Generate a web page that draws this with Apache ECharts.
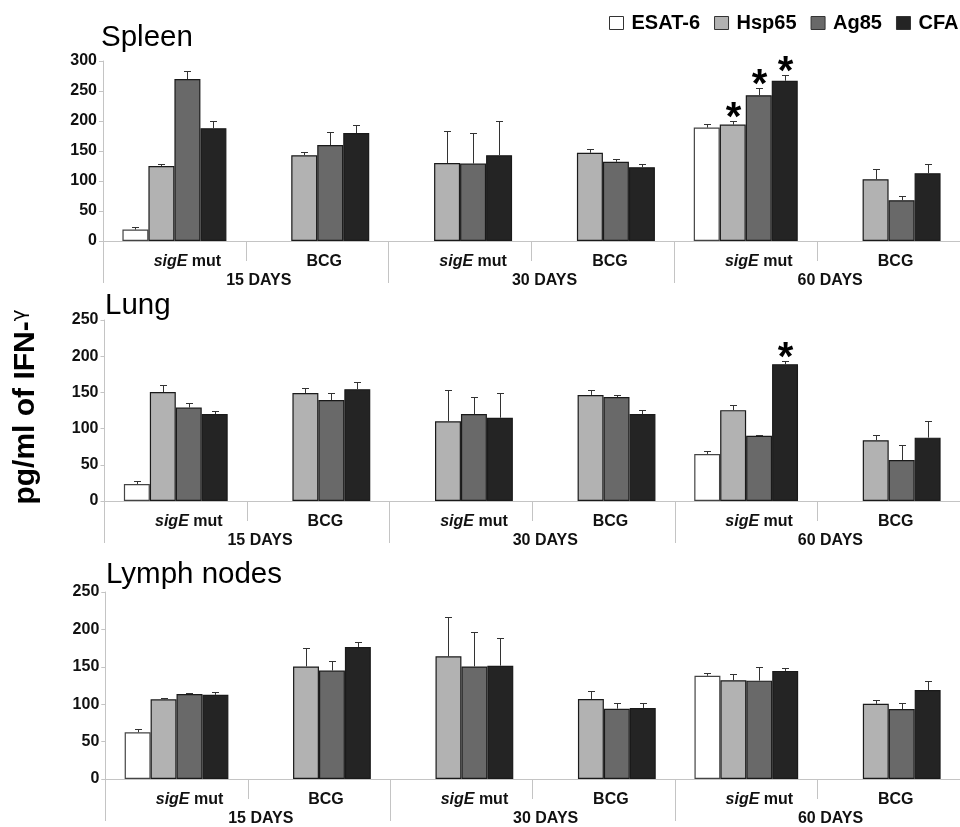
<!DOCTYPE html>
<html>
<head>
<meta charset="utf-8">
<title>IFN-gamma</title>
<script src="https://cdn.jsdelivr.net/npm/echarts@6/dist/echarts.min.js"></script>
<style>
  html, body { margin: 0; padding: 0; background: #fff; }
  #chart { width: 960px; height: 827px; }
</style>
</head>
<body>
<div id="chart"></div>
<script>
// categories
const groups = ['sigE mut', 'BCG', 'sigE mut', 'BCG', 'sigE mut', 'BCG'];
const days = ['15 DAYS', '30 DAYS', '60 DAYS'];
const antigens = ['ESAT-6', 'Hsp65', 'Ag85', 'CFA'];

// Spleen: means and SD (upper error)
const spleenESAT = [19, null, null, null, 189, null];
const spleenHsp65 = [125, 143, 130, 147, 194, 103];
const spleenAg85 = [270, 160, 129, 132, 243, 68];
const spleenCFA = [188, 180, 143, 123, 267, 113];
const spleenESATsd = [5, null, null, null, 6, null];
const spleenHsp65sd = [3, 5, 54, 7, 6.5, 17.5];
const spleenAg85sd = [13, 21.5, 51, 5, 12.5, 7.5];
const spleenCFAsd = [12, 13.5, 57, 6, 10, 16];
const spleenStars = [[1, 4], [2, 4], [3, 4]]; // [antigen, group]

// Lung
const lungESAT = [23.5, null, null, null, 65, null];
const lungHsp65 = [150.5, 149, 110, 146.5, 125.5, 84];
const lungAg85 = [129, 139.5, 120, 143.5, 90, 56.5];
const lungCFA = [120, 154.5, 115, 120, 189, 87.5];
const lungESATsd = [3.5, null, null, null, 3.6, null];
const lungHsp65sd = [9.5, 7.5, 43, 6.5, 6.5, 7];
const lungAg85sd = [6, 9.5, 23.5, 2.5, 1, 20.5];
const lungCFAsd = [5, 9.5, 34, 6, 4, 22.5];
const lungStars = [[3, 4]];

// Lymph nodes
const lymphESAT = [62.5, null, null, null, 138, null];
const lymphHsp65 = [106.5, 150.5, 164, 107, 132, 100.5];
const lymphAg85 = [113.5, 145, 150.5, 94, 131.5, 93.5];
const lymphCFA = [112.5, 176.5, 151.5, 95, 144.5, 119];
const lymphESATsd = [4, null, null, null, 4, null];
const lymphHsp65sd = [1.5, 24, 52.5, 10, 9, 4.5];
const lymphAg85sd = [2, 13, 46.5, 8, 18.5, 7.5];
const lymphCFAsd = [3.5, 6.5, 36.5, 7, 4, 12.5];
const lymphStars = [];

const colors = ['#ffffff', '#b2b2b2', '#696969', '#242424'];
const FONT = "'Liberation Sans', Arial, sans-serif";
const barFrac = 0.182;

const panels = [
    { title: 'Spleen', max: 300, left: 103, top: 61, height: 180, titleTop: 23, titleLeft: 101,
      vals: [spleenESAT, spleenHsp65, spleenAg85, spleenCFA],
      sds: [spleenESATsd, spleenHsp65sd, spleenAg85sd, spleenCFAsd], stars: spleenStars },
    { title: 'Lung', max: 250, left: 104.5, top: 320, height: 181, titleTop: 291, titleLeft: 105,
      vals: [lungESAT, lungHsp65, lungAg85, lungCFA],
      sds: [lungESATsd, lungHsp65sd, lungAg85sd, lungCFAsd], stars: lungStars },
    { title: 'Lymph nodes', max: 250, left: 105.3, top: 592, height: 189, titleTop: 560, titleLeft: 106,
      vals: [lymphESAT, lymphHsp65, lymphAg85, lymphCFA],
      sds: [lymphESATsd, lymphHsp65sd, lymphAg85sd, lymphCFAsd], stars: lymphStars }
];

// error bars + asterisks
function renderErr(params, api) {
    const g = api.value(0), s = api.value(1), v = api.value(2), sd = api.value(3), star = api.value(4);
    const p0 = api.coord([g, v]);
    const p1 = api.coord([g, v + sd]);
    const bw = api.size([1, 0])[0] * barFrac;
    const x = Math.round(p0[0] + (s - 1.5) * bw) + 0.5;
    const y1 = Math.round(p1[1]) + 0.5;
    const ls = { stroke: '#333', lineWidth: 1 };
    const children = [
        { type: 'line', shape: { x1: x, y1: p0[1], x2: x, y2: y1 }, style: ls },
        { type: 'line', shape: { x1: x - 3.5, y1: y1, x2: x + 3.5, y2: y1 }, style: ls }
    ];
    if (star) {
        children.push({
            type: 'text',
            style: { text: '*', x: x, y: y1 - 3, align: 'center', verticalAlign: 'middle',
                     font: 'bold 40px ' + FONT, fill: '#000' }
        });
    }
    return { type: 'group', children: children };
}

const grid = [], xAxis = [], yAxis = [], series = [], title = [];
panels.forEach((p, k) => {
    grid.push({ left: p.left, top: p.top, width: 867, height: p.height });
    title.push({ text: p.title, left: p.titleLeft, top: p.titleTop, padding: 0,
                 textStyle: { fontFamily: FONT, fontSize: 29.5, fontWeight: 'normal', color: '#000' } });
    xAxis.push({
        type: 'category', gridIndex: k, data: groups, position: 'bottom',
        axisLine: { show: true, lineStyle: { color: '#c4c4c4', width: 1 } },
        axisTick: { show: true, length: 20, lineStyle: { color: '#c4c4c4' } },
        axisLabel: {
            interval: 0, margin: 13, padding: [0, 0, 0, 14],
            fontFamily: FONT, fontSize: 16, fontWeight: 'bold', color: '#111',
            formatter: v => v === 'sigE mut' ? '{i|sigE}{n| mut}' : '{n|' + v + '}',
            rich: {
                i: { fontFamily: FONT, fontSize: 16, fontWeight: 'bold', fontStyle: 'italic', color: '#111', padding: [0, 0, 0, 12] },
                n: { fontFamily: FONT, fontSize: 16, fontWeight: 'bold', color: '#111' }
            }
        }
    });
    xAxis.push({
        type: 'category', gridIndex: k, data: days, position: 'bottom', offset: 0,
        axisLine: { show: false },
        axisTick: { show: true, length: 42, lineStyle: { color: '#c4c4c4' } },
        axisLabel: {
            interval: 0, margin: 32, padding: [0, 0, 0, 26],
            fontFamily: FONT, fontSize: 16, fontWeight: 'bold', color: '#111'
        }
    });
    yAxis.push({
        type: 'value', gridIndex: k, min: 0, max: p.max, interval: 50,
        axisLine: { show: true, lineStyle: { color: '#c4c4c4' } },
        axisTick: { show: true, length: 4, lineStyle: { color: '#c4c4c4' } },
        splitLine: { show: false },
        axisLabel: { margin: 6, fontFamily: FONT, fontSize: 16, fontWeight: 'bold', color: '#111' }
    });
    antigens.forEach((name, s) => {
        series.push({
            name: name, type: 'bar', xAxisIndex: k * 2, yAxisIndex: k,
            data: p.vals[s], barWidth: (barFrac * 100) + '%', barGap: '0%',
            itemStyle: { color: colors[s], borderColor: s === 0 ? '#444' : '#1a1a1a', borderWidth: 1.2 },
            emphasis: { disabled: true }, animation: false
        });
    });
    const errData = [];
    antigens.forEach((name, s) => {
        p.vals[s].forEach((v, g) => {
            if (v == null) return;
            const star = p.stars.some(st => st[0] === s && st[1] === g) ? 1 : 0;
            errData.push([g, s, v, p.sds[s][g], star]);
        });
    });
    series.push({
        type: 'custom', xAxisIndex: k * 2, yAxisIndex: k, data: errData,
        encode: { x: 0, y: 2 }, renderItem: renderErr, z: 5, silent: true, animation: false
    });
});

const chart = echarts.init(document.getElementById('chart'), null, { renderer: 'canvas' });
chart.setOption({
    backgroundColor: '#fff',
    animation: false,
    title: title,
    legend: {
        data: antigens, left: 609, top: 13, width: 400, padding: 0, icon: 'rect', orient: 'horizontal',
        itemWidth: 14, itemHeight: 13, itemGap: 14,
        itemStyle: { borderColor: '#333', borderWidth: 1 },
        textStyle: { fontFamily: FONT, fontSize: 20, fontWeight: 'bold', color: '#000', padding: [0, 0, 0, 3] }
    },
    graphic: [{
        type: 'text', x: 26, y: 407, rotation: Math.PI / 2,
        style: {
            text: '{a|pg/ml of IFN-}{g|γ}', align: 'center', verticalAlign: 'middle',
            rich: {
                a: { fontFamily: FONT, fontSize: 30, fontWeight: 'bold', fill: '#000' },
                g: { fontFamily: "'DejaVu Sans', " + FONT, fontSize: 20, fill: '#000', padding: [0, 0, 12, 0] }
            }
        }
    }],
    grid: grid,
    xAxis: xAxis,
    yAxis: yAxis,
    series: series
});
</script>
</body>
</html>
